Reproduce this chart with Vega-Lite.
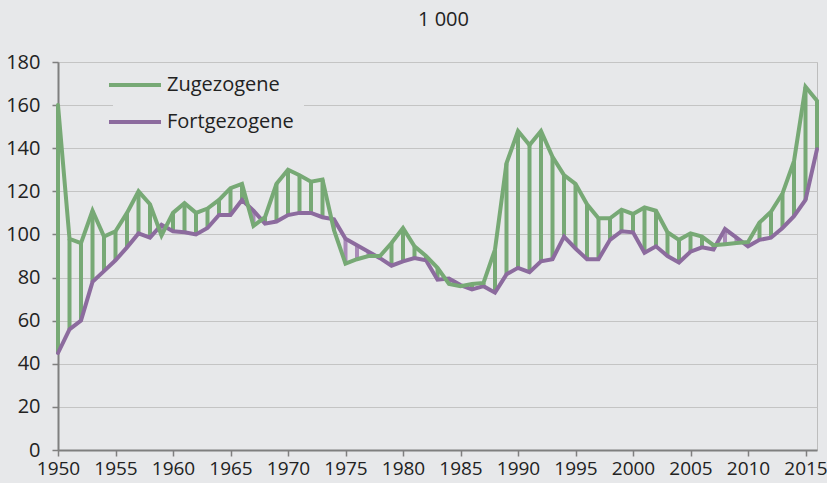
{
  "$schema": "https://vega.github.io/schema/vega-lite/v6.json",
  "autosize": "none",
  "width": 759,
  "height": 388,
  "padding": {"left": 58, "top": 62, "right": 10, "bottom": 33},
  "background": "#e7e8ea",
  "title": {"text": "1 000", "anchor": "middle", "fontWeight": "normal", "fontSize": 20, "font": "Open Sans", "color": "#222222", "offset": 22, "dx": 6},
  "config": {
    "view": {"stroke": "#bdbdbd", "strokeWidth": 1},
    "axis": {"labelFont": "Open Sans", "labelFontSize": 20, "labelColor": "#222222", "domainColor": "#7f7f7f", "domainWidth": 2, "tickColor": "#7f7f7f", "tickWidth": 1.5, "tickSize": 6, "gridColor": "#c4c4c4", "gridWidth": 1.2, "title": null}
  },
  "data": {"values": [
    {"year": 1950, "Zugezogene": 160, "Fortgezogene": 45},
    {"year": 1951, "Zugezogene": 98, "Fortgezogene": 56},
    {"year": 1952, "Zugezogene": 96, "Fortgezogene": 60},
    {"year": 1953, "Zugezogene": 111, "Fortgezogene": 78},
    {"year": 1954, "Zugezogene": 99, "Fortgezogene": 83},
    {"year": 1955, "Zugezogene": 101.5, "Fortgezogene": 88},
    {"year": 1956, "Zugezogene": 110, "Fortgezogene": 94},
    {"year": 1957, "Zugezogene": 120, "Fortgezogene": 100.5},
    {"year": 1958, "Zugezogene": 114, "Fortgezogene": 98.5},
    {"year": 1959, "Zugezogene": 99.5, "Fortgezogene": 104.5},
    {"year": 1960, "Zugezogene": 110, "Fortgezogene": 101.5},
    {"year": 1961, "Zugezogene": 114.5, "Fortgezogene": 101},
    {"year": 1962, "Zugezogene": 110, "Fortgezogene": 100},
    {"year": 1963, "Zugezogene": 112, "Fortgezogene": 103},
    {"year": 1964, "Zugezogene": 116, "Fortgezogene": 109},
    {"year": 1965, "Zugezogene": 121.5, "Fortgezogene": 109},
    {"year": 1966, "Zugezogene": 123.5, "Fortgezogene": 116},
    {"year": 1967, "Zugezogene": 104, "Fortgezogene": 111},
    {"year": 1968, "Zugezogene": 108, "Fortgezogene": 105},
    {"year": 1969, "Zugezogene": 123.5, "Fortgezogene": 106},
    {"year": 1970, "Zugezogene": 130, "Fortgezogene": 109},
    {"year": 1971, "Zugezogene": 127.5, "Fortgezogene": 110},
    {"year": 1972, "Zugezogene": 124.5, "Fortgezogene": 110},
    {"year": 1973, "Zugezogene": 125.5, "Fortgezogene": 108},
    {"year": 1974, "Zugezogene": 102, "Fortgezogene": 107},
    {"year": 1975, "Zugezogene": 86.5, "Fortgezogene": 98},
    {"year": 1976, "Zugezogene": 88.5, "Fortgezogene": 95},
    {"year": 1977, "Zugezogene": 90, "Fortgezogene": 92},
    {"year": 1978, "Zugezogene": 90, "Fortgezogene": 89},
    {"year": 1979, "Zugezogene": 96, "Fortgezogene": 85.5},
    {"year": 1980, "Zugezogene": 103, "Fortgezogene": 87.5},
    {"year": 1981, "Zugezogene": 94.5, "Fortgezogene": 89},
    {"year": 1982, "Zugezogene": 90, "Fortgezogene": 88},
    {"year": 1983, "Zugezogene": 84.5, "Fortgezogene": 79},
    {"year": 1984, "Zugezogene": 77, "Fortgezogene": 79.5},
    {"year": 1985, "Zugezogene": 76, "Fortgezogene": 76.5},
    {"year": 1986, "Zugezogene": 77, "Fortgezogene": 74.5},
    {"year": 1987, "Zugezogene": 77.5, "Fortgezogene": 76},
    {"year": 1988, "Zugezogene": 93, "Fortgezogene": 73},
    {"year": 1989, "Zugezogene": 133, "Fortgezogene": 81.5},
    {"year": 1990, "Zugezogene": 148, "Fortgezogene": 84.5},
    {"year": 1991, "Zugezogene": 141.5, "Fortgezogene": 82.5},
    {"year": 1992, "Zugezogene": 148, "Fortgezogene": 87.5},
    {"year": 1993, "Zugezogene": 136, "Fortgezogene": 88.5},
    {"year": 1994, "Zugezogene": 127.5, "Fortgezogene": 99},
    {"year": 1995, "Zugezogene": 123.5, "Fortgezogene": 93.5},
    {"year": 1996, "Zugezogene": 114, "Fortgezogene": 88.5},
    {"year": 1997, "Zugezogene": 107.5, "Fortgezogene": 88.5},
    {"year": 1998, "Zugezogene": 107.5, "Fortgezogene": 97.5},
    {"year": 1999, "Zugezogene": 111.5, "Fortgezogene": 101.5},
    {"year": 2000, "Zugezogene": 109.5, "Fortgezogene": 101},
    {"year": 2001, "Zugezogene": 112.5, "Fortgezogene": 91.5},
    {"year": 2002, "Zugezogene": 111, "Fortgezogene": 94.5},
    {"year": 2003, "Zugezogene": 101, "Fortgezogene": 90},
    {"year": 2004, "Zugezogene": 97.5, "Fortgezogene": 87},
    {"year": 2005, "Zugezogene": 100.5, "Fortgezogene": 92},
    {"year": 2006, "Zugezogene": 99, "Fortgezogene": 94},
    {"year": 2007, "Zugezogene": 95, "Fortgezogene": 93},
    {"year": 2008, "Zugezogene": 95.5, "Fortgezogene": 102.5},
    {"year": 2009, "Zugezogene": 96, "Fortgezogene": 98.5},
    {"year": 2010, "Zugezogene": 96.5, "Fortgezogene": 94.5},
    {"year": 2011, "Zugezogene": 105.5, "Fortgezogene": 97.5},
    {"year": 2012, "Zugezogene": 110.5, "Fortgezogene": 98.5},
    {"year": 2013, "Zugezogene": 119, "Fortgezogene": 103},
    {"year": 2014, "Zugezogene": 134, "Fortgezogene": 108.5},
    {"year": 2015, "Zugezogene": 168.5, "Fortgezogene": 116},
    {"year": 2016, "Zugezogene": 162, "Fortgezogene": 139.5}
  ]},
  "encoding": {
    "x": {"field": "year", "type": "quantitative", "scale": {"domain": [1950, 2016], "nice": false, "zero": false},
          "axis": {"values": [1950,1955,1960,1965,1970,1975,1980,1985,1990,1995,2000,2005,2010,2015], "format": "d", "grid": false, "labelFlush": false, "labelPadding": 3, "labelFontSize": 19}}
  },
  "layer": [
    {
      "mark": {"type": "rule", "strokeWidth": 4},
      "encoding": {
        "y": {"field": "Zugezogene", "type": "quantitative", "scale": {"domain": [0, 180], "nice": false},
              "axis": {"values": [0,20,40,60,80,100,120,140,160,180], "grid": true, "labelPadding": 12}},
        "y2": {"field": "Fortgezogene"},
        "color": {"condition": {"test": "datum.Zugezogene >= datum.Fortgezogene", "value": "#77a975"}, "value": "#a98bb8"}
      }
    },
    {
      "transform": [{"fold": ["Fortgezogene", "Zugezogene"], "as": ["Serie", "Wert"]}],
      "mark": {"type": "line", "strokeWidth": 4, "strokeCap": "round"},
      "encoding": {
        "y": {"field": "Wert", "type": "quantitative"},
        "color": {"field": "Serie", "type": "nominal",
          "scale": {"domain": ["Zugezogene", "Fortgezogene"], "range": ["#77a975", "#8c6b9e"]},
          "legend": {"title": null, "orient": "none", "legendX": 55, "legendY": 1, "fillColor": "#e7e8ea", "padding": 10,
                     "symbolType": "M-2.6,0H2.6", "symbolSize": 400, "symbolStrokeWidth": 4, "symbolFillColor": "transparent",
                     "labelFont": "Open Sans", "labelFontSize": 20, "labelColor": "#222222", "labelOffset": 20, "rowPadding": 15, "labelLimit": 300}},
        "order": {"field": "Serie", "sort": "ascending"}
      }
    }
  ]
}
